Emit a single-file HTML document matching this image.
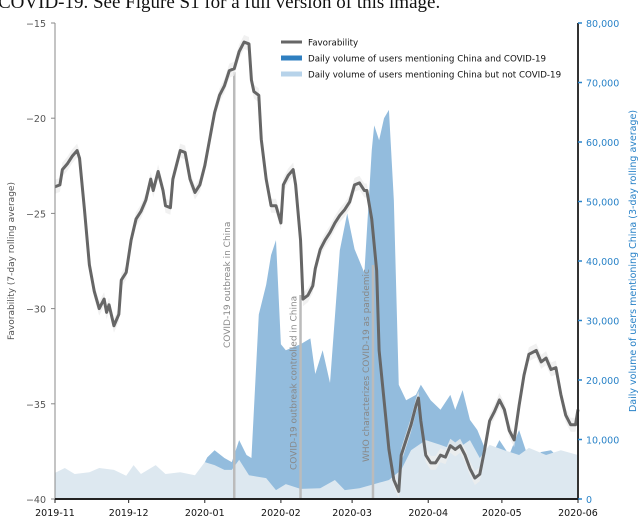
<!DOCTYPE html>
<html><head><meta charset="utf-8"><style>
body{margin:0;background:#fff;width:640px;height:520px;overflow:hidden}
svg{display:block;font-family:"DejaVu Sans","Liberation Sans",sans-serif}
</style></head><body>
<svg id="chart" width="640" height="520">
<text x="-2" y="8" font-family="Liberation Serif, serif" font-size="19" fill="#111">COVID-19. See Figure S1 for a full version of this image.</text>
<g id="plot"></g>
</svg>
<script>
// day offsets from 2019-11-01
const favDays=[0,2,3,5,7,9,10,12,14,16,18,20,21,22,24,26,27,29,31,33,35,37,39,40,42,44,45,47,48,50,51,53,55,57,59,61,63,65,67,69,71,73,75,77,79,80,81,83,84,86,88,90,92,93,95,97,98,100,101,103,105,106,108,110,112,114,116,118,120,122,124,126,127,129,131,132,134,136,138,140,141,143,145,147,148,149,151,153,155,157,159,161,163,165,167,169,171,173,175,177,179,181,183,185,187,189,191,193,196,198,200,202,204,206,208,210,212,213];
const favValues=[-23.6,-23.5,-22.7,-22.4,-22.0,-21.7,-22.1,-24.8,-27.7,-29.1,-30.0,-29.5,-30.2,-29.8,-30.9,-30.3,-28.5,-28.1,-26.4,-25.3,-24.9,-24.3,-23.2,-23.8,-22.8,-23.8,-24.6,-24.7,-23.2,-22.2,-21.7,-21.8,-23.2,-23.9,-23.5,-22.5,-21.1,-19.7,-18.8,-18.3,-17.5,-17.4,-16.5,-16.0,-16.1,-18.0,-18.6,-18.8,-21.1,-23.2,-24.6,-24.6,-25.5,-23.5,-23.0,-22.7,-23.5,-26.4,-29.5,-29.3,-28.8,-27.9,-26.9,-26.4,-26.0,-25.5,-25.1,-24.8,-24.4,-23.5,-23.4,-23.8,-23.8,-25.3,-28.0,-32.2,-34.8,-37.4,-39.0,-39.6,-37.7,-36.9,-36.1,-35.1,-34.7,-35.9,-37.7,-38.1,-38.1,-37.7,-37.8,-37.2,-37.4,-37.2,-37.7,-38.4,-38.9,-38.7,-37.4,-35.9,-35.4,-34.8,-35.3,-36.4,-36.9,-35.1,-33.5,-32.4,-32.2,-32.8,-32.6,-33.2,-33.1,-34.5,-35.6,-36.1,-36.1,-35.3];
const covidDays=[59,62,65,69,72,75,78,80,83,86,88,90,92,94,100,104,106,109,112,116,119,122,126,129,130,132,134,136,138,140,143,147,149,153,157,161,163,166,169,172,177,181,185,189,193,198,202,206,210,213];
const covidValues=[4500,7000,8200,6900,6200,9900,7400,6900,31000,36000,41000,43500,26000,25000,26000,27000,21000,25000,19500,41800,48000,42000,38000,58600,62800,60300,64000,65400,50200,19200,16600,17500,19200,16600,15000,17500,15000,18300,13300,11600,6600,9900,7400,11600,6600,7900,8200,6600,7400,4900];
const nonDays=[0,4,8,14,18,24,29,32,35,41,45,51,57,61,65,69,72,75,79,86,90,94,100,108,114,118,124,130,136,141,145,151,157,163,169,173,177,183,189,193,200,206,213];
const nonValues=[4400,5200,4200,4500,5200,4900,3900,5700,4200,5700,4200,4500,4000,6200,5700,4900,4900,6600,4000,3500,1500,2500,1700,1800,3200,1500,1800,2500,3200,4900,8200,9900,9100,8200,9900,6900,9100,8200,7400,8600,7400,8200,7400];
const favTicks=[-15,-20,-25,-30,-35,-40];
const volTicks=[0,10000,20000,30000,40000,50000,60000,70000,80000];
const volTickLabels=["0","10,000","20,000","30,000","40,000","50,000","60,000","70,000","80,000"];
const monthDays=[0,30,61,92,121,152,182,213];
const monthLabels=["2019-11","2019-12","2020-01","2020-02","2020-03","2020-04","2020-05","2020-06"];
const eventDays=[73,100,129.5];
const eventLabels=["COVID-19 outbreak in China","COVID-19 outbreak controlled in China","WHO characterizes COVID-19 as pandemic"];

const L=55,R=578,T=23,B=499;
const x=d=>L+d*(R-L)/213;
const yF=v=>B-(v+40)*(B-T)/25;
const yV=v=>B-v*(B-T)/80000;
const NS="http://www.w3.org/2000/svg";
const g=document.getElementById('plot');
function mk(tag,attrs,parent){const e=document.createElementNS(NS,tag);for(const k in attrs)e.setAttribute(k,attrs[k]);(parent||g).appendChild(e);return e;}

let pd="M"+x(covidDays[0])+","+yV(0);
covidDays.forEach((dd,i)=>{pd+=" L"+x(dd)+","+yV(covidValues[i]);});
pd+=" L"+x(covidDays[covidDays.length-1])+","+yV(0)+"Z";
const a1=mk('path',{d:pd,fill:'#93bcdd'});


pd="M"+x(nonDays[0])+","+yV(0);
nonDays.forEach((dd,i)=>{pd+=" L"+x(dd)+","+yV(nonValues[i]);});
pd+=" L"+x(nonDays[nonDays.length-1])+","+yV(0)+"Z";
const a2=mk('path',{d:pd,fill:'#dde8f0'});



const lineTops=[72,295,265];
const labelBottoms=[348,470,462];
eventDays.forEach((ed,i)=>{
  const ln=mk('line',{x1:x(ed),x2:x(ed),y1:lineTops[i],y2:B,stroke:'#bbb','stroke-width':2.5});
  
  
  const tx=mk('text',{x:0,y:0,'font-size':9,fill:'#888',transform:`translate(${x(ed)-4},${labelBottoms[i]}) rotate(-90)`});
  tx.textContent=eventLabels[i];
  
  
});

let bandPath="";
favDays.forEach((dd,i)=>{bandPath+=(i?" L":"M")+x(dd)+","+(yF(favValues[i])-7);});
for(let i=favDays.length-1;i>=0;i--){bandPath+=" L"+x(favDays[i])+","+(yF(favValues[i])+7);}
const bd=mk('path',{d:bandPath+"Z",fill:'#eeeeee',opacity:0.8});


let ld="";
favDays.forEach((dd,i)=>{ld+=(i?" L":"M")+x(dd)+","+yF(favValues[i]);});
const fl=mk('path',{d:ld,fill:'none',stroke:'#666','stroke-width':3,'stroke-linejoin':'round'});



const la=mk('line',{x1:L,x2:L,y1:T,y2:B,stroke:'#888','stroke-width':1});


const ra=mk('line',{x1:R,x2:R,y1:T,y2:B,stroke:'#333','stroke-width':2});


const ba=mk('line',{x1:L,x2:R,y1:B,y2:B,stroke:'#222','stroke-width':2});


favTicks.forEach(v=>{
  mk('line',{x1:L-4,x2:L,y1:yF(v),y2:yF(v),stroke:'#888'});
  const t=mk('text',{x:L-9,y:yF(v)+4,'font-size':9.5,fill:'#555','text-anchor':'end'});
  t.textContent="\u2212"+Math.abs(v);
  
  
});
volTicks.forEach((v,i)=>{
  mk('line',{x1:R,x2:R+4,y1:yV(v),y2:yV(v),stroke:'#2a83c8','stroke-width':1.5});
  const t=mk('text',{x:R+8,y:yV(v)+4,'font-size':9.5,fill:'#2a83c8'});
  t.textContent=volTickLabels[i];
  
  
});
monthDays.forEach((m,i)=>{
  mk('line',{x1:x(m),x2:x(m),y1:B,y2:B+4,stroke:'#222'});
  const t=mk('text',{x:x(m),y:B+17,'font-size':9.5,fill:'#111','text-anchor':'middle'});
  t.textContent=monthLabels[i];
  
  
});
const yl=mk('text',{x:0,y:0,'font-size':9,fill:'#555','text-anchor':'middle',transform:'translate(14,261) rotate(-90)'});
yl.textContent="Favorability (7-day rolling average)";


const yr=mk('text',{x:0,y:0,'font-size':9.5,fill:'#2a83c8','text-anchor':'middle',transform:'translate(636,261) rotate(-90)'});
yr.textContent="Daily volume of users mentioning China (3-day rolling average)";



const lg=mk('g',{});


const items=[["Favorability",'#666',3],["Daily volume of users mentioning China and COVID-19",'#2f7fc0',5],["Daily volume of users mentioning China but not COVID-19",'#b7d3ea',5]];
items.forEach((it,i)=>{
  const yy=42+i*16;
  mk('line',{x1:281,x2:302,y1:yy,y2:yy,stroke:it[1],'stroke-width':it[2]},lg);
  const t=mk('text',{x:308,y:yy+3.5,'font-size':8.7,fill:'#111'},lg);
  t.textContent=it[0];
  
  
});
</script>
</body></html>
